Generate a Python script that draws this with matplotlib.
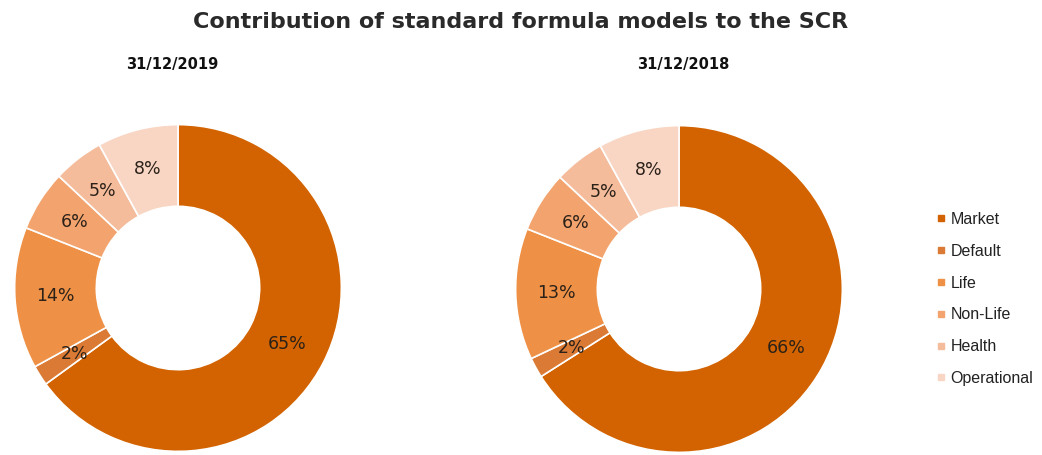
import matplotlib.pyplot as plt
from matplotlib.lines import Line2D

categories = ['Market', 'Default', 'Life', 'Non-Life', 'Health', 'Operational']
values_2019 = [65, 2, 14, 6, 5, 8]
values_2018 = [66, 2, 13, 6, 5, 8]
dates = ['31/12/2019', '31/12/2018']
colors = ['#D26300', '#DA7A34', '#EE9146', '#F3A46E', '#F5BC9C', '#F9D6C4']

W, H = 1042, 455
fig = plt.figure(figsize=(W / 100, H / 100), dpi=100)

fig.text(0.5, 1 - 22 / H, 'Contribution of standard formula models to the SCR',
         ha='center', va='center', fontsize=16, fontweight='bold', color='#2a2a2a')

# (center x, center y) in pixels, radius in pixels
centers = [(178, 288), (679, 289)]
R = 165
title_x = [172, 683]

for vals, (cx, cy), date, tx in zip([values_2019, values_2018], centers, dates, title_x):
    ax = fig.add_axes([(cx - R) / W, (H - cy - R) / H, 2 * R / W, 2 * R / H])
    wedges, texts, autotexts = ax.pie(
        vals, colors=colors, startangle=90, counterclock=False,
        autopct='%.0f%%', pctdistance=0.75,
        wedgeprops=dict(width=0.5, edgecolor='white', linewidth=1.2),
        textprops=dict(fontsize=12.5, color='#2b2118'))
    ax.set_xlim(-1.01, 1.01)
    ax.set_ylim(-1.01, 1.01)
    ax.set_aspect('equal')
    for w in wedges:
        w.set_clip_on(False)
    fig.text(tx / W, 1 - 65 / H, date, ha='center', va='center',
             fontsize=10.5, fontweight='bold', color='#111111')

handles = [Line2D([], [], marker='s', linestyle='none', markersize=5,
                  markerfacecolor=c, markeredgecolor=c) for c in colors]
fig.legend(handles, categories, loc='center left',
           bbox_to_anchor=(936 / W, 1 - 299 / H), frameon=False,
           prop=dict(family='Liberation Sans', size=11.5),
           labelspacing=1.05, handlelength=0.6, handletextpad=0.3,
           borderpad=0, borderaxespad=0, labelcolor='#222222')

fig.savefig('out.png', dpi=100, facecolor='white')
